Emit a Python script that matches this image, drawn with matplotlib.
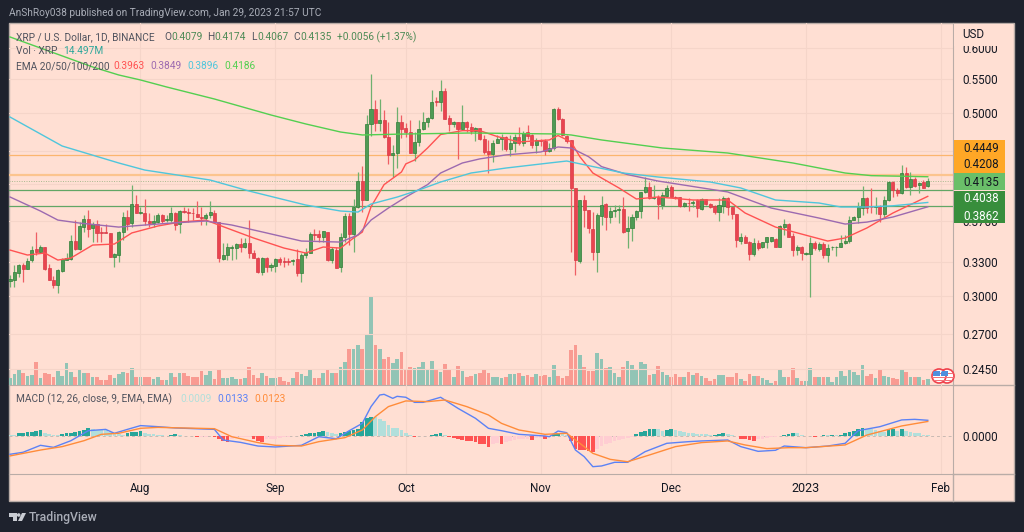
#!/usr/bin/env python3
import numpy as np
import matplotlib
matplotlib.use("Agg")
import matplotlib.pyplot as plt
from matplotlib.patches import Rectangle, Circle, Polygon
from matplotlib.ticker import NullLocator
from matplotlib.transforms import IdentityTransform

# daily candles, 2 Jul 2022 .. 29 Jan 2023
opens = [
    .3131, .3137, .3202, .3271, .3238, .3314, .3421, .3392, .3437, .3241,
    .3137, .3096, .3220, .3317, .3329, .3498, .3417, .3634, .3719, .3624,
    .3665, .3584, .3584, .3574, .3342, .3367, .3587, .3737, .3675, .3876,
    .3786, .3786, .3702, .3678, .3692, .3761, .3706, .3709, .3786, .3665,
    .3808, .3797, .3786, .3772, .3744, .3733, .3758, .3786, .3692, .3329,
    .3360, .3434, .3431, .3466, .3440, .3482, .3380, .3332, .3211, .3332,
    .3253, .3262, .3326, .3311, .3311, .3311, .3323, .3196, .3360, .3386,
    .3564, .3564, .3541, .3590, .3317, .3411, .3256, .3541, .3755, .3563,
    .3844, .4133, .3923, .4850, .5054, .4869, .4905, .4678, .4448, .4478,
    .4873, .4793, .4748, .4478, .4618, .4788, .4877, .4928, .5173, .5163,
    .5319, .4928, .4850, .4873, .4784, .4882, .4806, .4761, .4797, .4652,
    .4494, .4457, .4605, .4648, .4674, .4519, .4605, .4674, .4605, .4743,
    .4699, .4570, .4639, .4626, .4494, .4536, .5058, .4924, .4696, .4639,
    .4052, .3311, .3923, .3815, .3617, .3392, .3755, .3876, .3737, .3808,
    .3812, .3826, .3600, .3628, .3737, .3808, .4008, .4064, .3945, .3953,
    .3873, .3968, .4072, .3960, .3953, .3858, .3894, .3887, .3923, .3826,
    .3930, .3879, .3858, .3794, .3858, .3945, .3844, .3773, .3495, .3540,
    .3492, .3373, .3476, .3437, .3486, .3495, .3518, .3443, .3641, .3664,
    .3548, .3411, .3443, .3373, .3373, .3482, .3424, .3469, .3364, .3437,
    .3437, .3437, .3476, .3502, .3712, .3737, .3837, .3949, .3851, .3851,
    .3858, .3769, .3923, .4125, .4034, .3996, .4233, .4064, .4164, .4087,
    .4125, .4079,
]
closes = [
    .3149, .3208, .3274, .3238, .3311, .3411, .3392, .3437, .3238, .3137,
    .3096, .3223, .3323, .3332, .3495, .3417, .3648, .3719, .3621, .3665,
    .3574, .3574, .3574, .3348, .3373, .3587, .3737, .3668, .3876, .3786,
    .3790, .3702, .3682, .3699, .3761, .3699, .3716, .3786, .3658, .3808,
    .3790, .3786, .3779, .3744, .3733, .3761, .3790, .3692, .3332, .3360,
    .3437, .3437, .3469, .3440, .3482, .3380, .3332, .3211, .3332, .3253,
    .3268, .3323, .3301, .3298, .3301, .3317, .3202, .3360, .3386, .3564,
    .3557, .3541, .3594, .3317, .3417, .3247, .3541, .3755, .3567, .3844,
    .4133, .3923, .4850, .5054, .4869, .4905, .4678, .4448, .4478, .4873,
    .4784, .4748, .4478, .4618, .4788, .4877, .4928, .5163, .5163, .5319,
    .4924, .4850, .4873, .4784, .4882, .4815, .4761, .4797, .4652, .4486,
    .4457, .4605, .4648, .4683, .4519, .4600, .4674, .4605, .4730, .4690,
    .4570, .4635, .4626, .4494, .4536, .5058, .4919, .4704, .4630, .4052,
    .3317, .3923, .3819, .3624, .3392, .3762, .3873, .3737, .3808, .3815,
    .3826, .3590, .3628, .3737, .3808, .4008, .4064, .3949, .3953, .3881,
    .3975, .4060, .3953, .3942, .3858, .3887, .3887, .3905, .3833, .3930,
    .3879, .3844, .3790, .3865, .3945, .3844, .3773, .3508, .3540, .3482,
    .3373, .3476, .3430, .3486, .3535, .3535, .3443, .3647, .3664, .3541,
    .3411, .3437, .3386, .3386, .3476, .3427, .3469, .3364, .3433, .3443,
    .3443, .3476, .3498, .3712, .3744, .3844, .3949, .3840, .3844, .3858,
    .3769, .3923, .4121, .4034, .3996, .4225, .4064, .4164, .4080, .4117,
    .4060, .4135,
]
highs = [
    .3181, .3271, .3280, .3292, .3332, .3450, .3587, .3463, .3443, .3280,
    .3172, .3232, .3332, .3380, .3554, .3709, .3692, .3761, .3815, .3692,
    .3709, .3634, .3665, .3574, .3380, .3597, .3793, .3815, .4095, .3978,
    .3851, .3934, .3779, .3761, .3779, .3772, .3761, .3851, .3797, .3815,
    .3851, .3833, .3833, .3916, .3851, .3779, .3916, .3815, .3692, .3476,
    .3476, .3460, .3476, .3524, .3524, .3709, .3411, .3348, .3342, .3348,
    .3286, .3332, .3342, .3342, .3332, .3323, .3417, .3380, .3427, .3590,
    .3614, .3607, .3600, .3590, .3443, .3437, .3574, .3780, .3780, .3930,
    .4245, .4313, .4975, .5578, .5187, .5197, .5044, .4873, .4574, .5092,
    .4975, .4859, .4905, .4748, .4905, .5021, .4951, .5334, .5236, .5485,
    .5360, .4975, .4896, .4882, .5115, .4891, .4859, .4815, .4797, .4704,
    .4639, .4639, .4704, .4717, .4691, .4704, .4717, .4815, .4761, .4836,
    .4717, .4661, .4656, .4648, .4596, .5068, .5092, .4928, .4704, .4639,
    .4052, .3923, .3978, .3815, .3797, .3780, .3967, .3894, .3851, .3869,
    .3869, .3953, .3750, .3773, .3815, .4015, .4180, .4129, .4091, .3978,
    .4016, .4091, .4091, .3968, .3960, .3905, .3942, .3923, .3930, .3942,
    .3938, .3887, .3869, .3942, .3968, .3953, .3851, .3773, .3574, .3557,
    .3502, .3524, .3508, .3492, .3541, .3541, .3524, .3654, .3716, .3675,
    .3574, .3460, .3450, .3395, .3541, .3502, .3492, .3492, .3469, .3450,
    .3450, .3557, .3557, .3752, .3752, .3905, .4080, .3960, .4053, .3960,
    .3869, .3968, .4140, .4136, .4053, .4323, .4303, .4245, .4180, .4129,
    .4148, .4174,
]
lows = [
    .3079, .3079, .3160, .3122, .3232, .3301, .3364, .3380, .3226, .3137,
    .3065, .3023, .3211, .3317, .3317, .3411, .3411, .3590, .3541, .3492,
    .3492, .3492, .3574, .3342, .3250, .3301, .3508, .3607, .3634, .3779,
    .3772, .3658, .3634, .3634, .3682, .3675, .3692, .3692, .3607, .3580,
    .3779, .3692, .3709, .3737, .3658, .3658, .3726, .3682, .3301, .3317,
    .3317, .3317, .3323, .3395, .3427, .3332, .3332, .3202, .3181, .3211,
    .3217, .3211, .3271, .3256, .3271, .3271, .3172, .3122, .3332, .3380,
    .3508, .3492, .3492, .3311, .3286, .3241, .3211, .3492, .3459, .3395,
    .3833, .3797, .3923, .4690, .4751, .4761, .4661, .4338, .4179, .4285,
    .4661, .4674, .4470, .4378, .4562, .4770, .4815, .4914, .5105, .5030,
    .4914, .4761, .4815, .4399, .4779, .4748, .4717, .4630, .4639, .4461,
    .4226, .4358, .4596, .4511, .4503, .4436, .4490, .4575, .4562, .4648,
    .4532, .4478, .4562, .4448, .4482, .4511, .4905, .4690, .4596, .3395,
    .3181, .3293, .3641, .3581, .3317, .3211, .3658, .3607, .3682, .3744,
    .3675, .3580, .3432, .3501, .3709, .3727, .3997, .3930, .3930, .3723,
    .3826, .3953, .3953, .3930, .3844, .3844, .3808, .3844, .3737, .3815,
    .3869, .3833, .3769, .3702, .3783, .3762, .3723, .3443, .3469, .3476,
    .3317, .3354, .3411, .3427, .3427, .3485, .3437, .3437, .3558, .3535,
    .3355, .3364, .3317, .3364, .2995, .3411, .3405, .3333, .3302, .3411,
    .3355, .3437, .3469, .3476, .3709, .3675, .3762, .3783, .3783, .3773,
    .3692, .3744, .3916, .3961, .3968, .3989, .4053, .3978, .4072, .3996,
    .4053, .4067,
]
# volume in millions
volume = [
    17.6, 25.6, 38.4, 28, 22.4, 24, 56, 16, 28, 26.4,
    20, 33.6, 22.4, 52.8, 32, 20, 38.4, 28, 28, 20,
    20, 11.2, 11.2, 24, 17.6, 26.4, 32, 28, 41.6, 20,
    20, 19.2, 20, 14.4, 20, 11.2, 12.8, 28, 20, 29.6,
    29.6, 21.6, 20, 20, 33.6, 24, 33.6, 13.6, 36, 17.6,
    17.6, 20, 14.4, 14.4, 16, 42.4, 24, 17.6, 29.6, 21.6,
    17.6, 17.6, 20, 9.6, 8, 16, 30.4, 25.6, 22.4, 38.4,
    17.6, 16, 29.6, 36, 29.6, 29.6, 44, 54.4, 88, 88,
    97.6, 88, 120, 216, 97.6, 86.4, 64, 68, 52, 64,
    80, 37.6, 44, 41.6, 44, 56, 36, 57.6, 38.4, 30.4,
    49.6, 38.4, 20, 46.4, 33.6, 20, 21.6, 26.4, 28, 37.6,
    28, 20, 20,
    16, 20, 26.4, 26.4, 28, 21.6, 24, 18.4, 26.4, 21.6,
    24, 20, 48, 21.6, 16, 21.6, 84, 96, 72, 42.4,
    33.6, 34.4, 77.6, 64, 41.6, 42.4, 29.6, 20, 42.4, 58.4,
    48, 36, 56, 50.4, 24, 26.4, 45.6, 30.4, 24, 18.4,
    26.4, 18.4, 20, 30.4, 24, 29.6, 22.4, 17.6, 9.6, 13.6,
    24, 24, 20, 18.4, 29.6, 13.6, 10.4, 26.4, 21.6, 21.6,
    16, 12, 5.6, 9.6, 36, 20, 20, 40, 16, 10.4,
    10.4, 40, 20, 20, 18.4, 18.4, 8, 18.4, 34.4, 21.6,
    36, 30.4, 24, 48, 21.6, 25.6, 17.6, 36, 22.4, 20,
    16, 14.4, 38.4, 30.4, 20, 20, 20, 12, 14.5,
]
# macd histogram in units of 1e-4
hist_e4 = [
    11, 8, 23, 25, 31, 37, 42, 48, 25, 17, 8, 6, 17, 25, 28, 37, 45, 51, 65, 59,
    54, 51, 48, 37, 28, 14, 8, 23, 31, 37, 40, 28, 20, 14, 8, 6, 3, 8, 14, 6, 3,
    -3, -3, -6, -6, -6, -3,
    -11, -25, -40, -54,
    -23, -14, -8, -6, -6,
    -28, -40, -51,
    -28, -25, -23, -17, -11, -6, -3,
    3,
    6, 14, 23, 28, 37, 42,
    31, 23, 14,
    23, 31, 42, 48, 62,
    119, 155, 164, 164,
    147, 130, 93, 71, 65, 51, 23, 6,
    -8, -3, 0,
    3, 8, 17, 23, 8,
    -8, -20, -28, -34, -40, -45, -51, -65, -71, -93, -71, -62,
    -65, -51, -40, -34, -28, -28, -25, -31, -17, -14, -28, -6, 17, 28, 17, 6,
    -42, -113, -119, -121, -127, -133,
    -113, -85, -71, -56, -42, -34, -25, -17, -11,
    20, 34, 45, 56, 59, 59, 42, 51, 56,
    51, 42, 34, 28, 23, 20, 14, 14,
    8, 11, 17, 23, 14, 6, -3,
    -23, -28, -34, -45,
    -28, -23, -17, -11, -6, -3,
    6, 14, 23, 23, 8, 3, 0, -6, 3, 8, 8, 11, 6, 8,
    23, 37, 45, 56, 71, 62, 56, 51, 42, 34,
    56, 62, 40, 56, 40, 34, 25, 23, 11, 9,
]

ema20_day = [0, 4, 8, 11, 14, 19, 24, 28, 34, 39, 45, 48, 56, 63, 68, 72, 76, 79, 81, 83, 86, 90, 91, 93,
             96, 99, 104, 108, 112, 117, 124, 126, 129, 131, 134, 140, 144, 149, 157, 165, 169, 176, 188,
             192, 197, 203, 211]
ema20 = [.3411, .3364, .3383, .3317, .3336, .3459, .3469, .3578, .3648, .3688, .3709, .3658, .3528, .3430,
         .3383, .3440, .3430, .3528, .3587, .3849, .4095, .4242, .4339, .4386, .4536, .4710, .4761, .4761,
         .4684, .4613, .4639, .4697, .4613, .4428, .4230, .4057, .3934, .3956, .3923, .3923, .3783, .3637,
         .3498, .3528, .3628, .3783, .3963]
ema50_day = [0, 7, 11, 16, 25, 31, 37, 45, 51, 59, 67, 76, 80, 83, 87, 91, 96, 99, 104, 108, 114, 122, 126,
             129, 133, 136, 142, 149, 165, 175, 186, 192, 197, 203, 211]
ema50 = [.3956, .3804, .3709, .3678, .3637, .3658, .3678, .3699, .3658, .3578, .3498, .3488, .3558, .3709,
         .3836, .3955, .4095, .4230, .4350, .4400, .4449, .4486, .4549, .4536, .4428, .4306, .4211, .4136,
         .4012, .3836, .3730, .3668, .3688, .3741, .3849]
ema100_day = [0, 12, 25, 31, 46, 55, 68, 76, 80, 83, 89, 94, 99, 106, 114, 124, 128, 133, 141, 149, 161, 168,
              176, 186, 191, 197, 203, 211]
ema100 = [.4946, .4561, .4350, .4265, .4148, .4022, .3868, .3804, .3793, .3879, .3955, .4034, .4125, .4230,
          .4289, .4350, .4374, .4318, .4230, .4183, .4125, .4057, .3923, .3890, .3847, .3847, .3860, .3896]
ema200_day = [0, 19, 25, 30, 36, 47, 60, 68, 76, 81, 91, 106, 126, 129, 136, 150, 165, 180, 192, 198, 211]
ema200 = [.6185, .5688, .5562, .5485, .5379, .5201, .4974, .4851, .4743, .4704, .4717, .4730, .4717, .4704,
          .4639, .4536, .4473, .4350, .4230, .4199, .4186]

macd_day = [0, 3, 7, 10, 14, 18, 22, 24, 27, 30, 34, 38, 47, 49, 53, 57, 61, 67, 71, 75, 78, 81, 83, 85, 86,
            88, 89, 91, 93, 95, 99, 103, 107, 110, 113, 117, 123, 124, 126, 128, 130, 132, 134, 136, 139, 142,
            146, 151, 156, 159, 165, 168, 172, 176, 178, 183, 188, 192, 195, 200, 205, 208, 211]
macd = [-.0155, -.0138, -.0079, -.0096, -.0040, .0045, .0056, .0023, .0056, .0088, .0079, .0068, .0056, -.0034,
        -.0054, -.0085, -.0093, -.0079, -.0006, -.0023, .0045, .0107, .0249, .0347, .0353, .0319, .0336, .0328,
        .0285, .0285, .0328, .0234, .0150, .0065, .0045, .0014, .0000, -.0006, .0042, .0028, -.0119, -.0175,
        -.0260, -.0254, -.0223, -.0223, -.0133, -.0062, -.0048, -.0042, -.0034, -.0090, -.0130, -.0121, -.0085,
        -.0099, -.0085, -.0062, .0045, .0079, .0136, .0141, .0133]
signal_day = [0, 7, 12, 17, 21, 25, 30, 34, 47, 51, 57, 61, 67, 71, 77, 81, 84, 87, 91, 96, 100, 105, 110, 113,
              117, 123, 128, 134, 138, 142, 147, 153, 159, 165, 169, 174, 179, 183, 192, 197, 205, 211]
signal = [-.0169, -.0119, -.0090, -.0040, .0014, .0023, .0065, .0073, .0062, -.0006, -.0056, -.0079, -.0085,
          -.0048, -.0014, .0051, .0164, .0249, .0297, .0291, .0305, .0249, .0178, .0107, .0051, .0014, .0023,
          -.0147, -.0198, -.0218, -.0161, -.0090, -.0056, -.0042, -.0076, -.0107, -.0099, -.0099, -.0076, .0008,
          .0085, .0123]

month_day = [30, 61, 91, 122, 152, 183, 214]
month_labels = ["Aug", "Sep", "Oct", "Nov", "Dec", "2023", "Feb"]
price_ticks = [.60, .55, .50, .45, .41, .37, .33, .30, .27, .245]
# .45 and .41 sit fully behind the value boxes
price_labels = ["0.6000", "0.5500", "0.5000", "", "", "0.3700", "0.3300", "0.3000", "0.2700", "0.2450"]
level_orange = [.4449, .4208]
level_green = [.4038, .3862]
last_price = .4135

W, H = 1024, 532
BG = "#1e222d"
PANE = "#ffdfd3"
GRID = "#f5d5c9"
EDGE = "#b9aca7"
INK = "#131722"
FONT = ["Roboto", "DejaVu Sans"]
plt.rcParams["font.family"] = FONT
plt.rcParams["font.size"] = 7.3


def box(x0, y0, x1, y1):
    # pixel box, y from the top, to figure fractions
    return [x0 / W, 1 - y1 / H, (x1 - x0) / W, (y1 - y0) / H]


def label(x, y, s, color=INK, size=7.3, ha="left", zorder=7, **kw):
    fig.text(x / W, 1 - y / H, s, color=color, fontsize=size, ha=ha, va="center", zorder=zorder, **kw)


def rect(x0, y0, x1, y1, color, zorder):
    b = box(x0, y0, x1, y1)
    fig.add_artist(Rectangle((b[0], b[1]), b[2], b[3], transform=fig.transFigure,
                             facecolor=color, edgecolor="none", zorder=zorder))


fig = plt.figure(figsize=(W / 100, H / 100), dpi=100, facecolor=BG)

# outer pane and the price column behind everything
b = box(9, 23, 1014, 501)
fig.add_artist(Rectangle((b[0], b[1]), b[2], b[3], transform=fig.transFigure,
                         facecolor=PANE, edgecolor=EDGE, lw=1.0, zorder=-2))

days = np.arange(len(opens))
o, h, l, c = map(np.array, (opens, highs, lows, closes))
up = c >= o
xlim = (-0.23, 216.8)

# volume sits under the candles in the same pane
ax_vol = fig.add_axes(box(9, 23, 953, 385), zorder=1)
ax_vol.patch.set_visible(False)
ax_vol.bar(days, volume, width=0.85, color=np.where(up, "#92c4b5", "#f99b92"), linewidth=0)
ax_vol.set_xlim(xlim)
ax_vol.set_ylim(0, 875)
ax_vol.axis("off")

ax = fig.add_axes(box(9, 23, 953, 385), zorder=2)
ax.patch.set_visible(False)
ax.set_yscale("log")
ax.set_xlim(xlim)
ax.set_ylim(.234, .6431)
ax.set_axisbelow(True)
ax.grid(True, color=GRID, lw=0.8)
ax.set_xticks(month_day)
ax.tick_params(axis="x", length=0, labelbottom=False)
ax.yaxis.tick_right()
ax.set_yticks(price_ticks)
ax.set_yticklabels(price_labels, fontsize=8.4, color=INK)
ax.yaxis.set_minor_locator(NullLocator())
ax.tick_params(axis="y", length=0, pad=7)
for s in ax.spines.values():
    s.set_visible(False)
ax.spines["right"].set_visible(True)
ax.spines["right"].set_color(EDGE)
ax.spines["bottom"].set_visible(True)
ax.spines["bottom"].set_color(EDGE)

ax.axhline(level_orange[0], color="#fbb56e", lw=0.9, zorder=1.5)
ax.axhline(level_orange[1], color="#fcc48e", lw=1.6, zorder=1.5)
for lv in level_green:
    ax.axhline(lv, color="#62a665", lw=0.9, zorder=1.5)
ax.axhline(last_price, color="#a9b98f", lw=0.7, ls=(0, (1, 1.5)), zorder=1.5)

# candles
ax.vlines(days[up], l[up], h[up], color="#6fb06f", lw=0.9, zorder=3)
ax.vlines(days[~up], l[~up], h[~up], color="#ef5f64", lw=0.9, zorder=3)
ax.bar(days[up], (c - o)[up], bottom=o[up], width=0.7, color="#4f9b55", edgecolor="#2f7d37", lw=0.5, zorder=3.2)
ax.bar(days[~up], (o - c)[~up], bottom=c[~up], width=0.7, color="#e9444f", edgecolor="#d83a48", lw=0.5, zorder=3.2)

ax.plot(ema20_day, ema20, color="#ff5252", lw=1.0, zorder=4)
ax.plot(ema50_day, ema50, color="#9c6ab0", lw=1.0, zorder=4)
ax.plot(ema100_day, ema100, color="#4fc6dc", lw=1.0, zorder=4)
ax.plot(ema200_day, ema200, color="#53cf50", lw=1.0, zorder=4)

# macd pane
ax_m = fig.add_axes(box(9, 385, 953, 474), zorder=2)
ax_m.patch.set_visible(False)
hist = np.array(hist_e4) * 1e-4
prev = np.r_[hist[0], hist[:-1]]
hist_col = np.where(hist >= 0,
                    np.where(hist > prev, "#26a69a", "#b2dfdb"),
                    np.where(hist < prev, "#ff5252", "#ffcdd2"))
ax_m.axhline(0, color="#c9b9b2", lw=0.7, ls=(0, (3, 3)), zorder=1)
ax_m.bar(days, hist, width=0.86, color=hist_col, linewidth=0, zorder=2)
ax_m.plot(macd_day, macd, color="#5c82f5", lw=1.0, zorder=3)
ax_m.plot(signal_day, signal, color="#ff8c3a", lw=1.0, zorder=3)
ax_m.set_xlim(xlim)
ax_m.set_ylim(-.0322, .0432)
ax_m.set_axisbelow(True)
ax_m.grid(True, axis="x", color=GRID, lw=0.8)
ax_m.set_xticks(month_day)
ax_m.set_xticklabels(month_labels, fontsize=8.4, color=INK)
ax_m.get_xticklabels()[5].set_fontsize(9)
ax_m.tick_params(axis="x", length=0, pad=6)
ax_m.yaxis.tick_right()
ax_m.set_yticks([0])
ax_m.set_yticklabels(["0.0000"], fontsize=8.4, color=INK)
ax_m.tick_params(axis="y", length=0, pad=7)
for s in ax_m.spines.values():
    s.set_visible(False)
ax_m.spines["right"].set_visible(True)
ax_m.spines["right"].set_color(EDGE)
ax_m.spines["bottom"].set_visible(True)
ax_m.spines["bottom"].set_color(EDGE)
fig.add_artist(plt.Line2D([953 / W, 953 / W], [1 - 474 / H, 1 - 501 / H], color=EDGE, lw=1.0, zorder=1))
fig.add_artist(plt.Line2D([953 / W, 1014 / W], [1 - 385 / H, 1 - 385 / H], color=EDGE, lw=1.0, zorder=1))
fig.add_artist(plt.Line2D([953 / W, 1014 / W], [1 - 474 / H, 1 - 474 / H], color=EDGE, lw=1.0, zorder=1))

# header and legends
label(9, 13, "AnShRoy038 published on TradingView.com, Jan 29, 2023 21:57 UTC", color="#a9adb7")
LEG = "#50535e"
OHLC = "#4c8a55"
label(16, 37, "XRP / U.S. Dollar, 1D, BINANCE", LEG)
label(164, 37, "O", LEG)
label(171, 37, "0.4079", OHLC)
label(207, 37, "H", LEG)
label(214, 37, "0.4174", OHLC)
label(251, 37, "L", LEG)
label(257, 37, "0.4067", OHLC)
label(293, 37, "C", LEG)
label(300, 37, "0.4135", OHLC)
label(337, 37, "+0.0056 (+1.37%)", OHLC)
label(16, 51, "Vol · XRP", LEG)
label(63, 51, "14.497M", "#2fa79b")
label(16, 66, "EMA 20/50/100/200", LEG)
label(113, 66, "0.3963", "#ff5252")
label(150, 66, "0.3849", "#9c6ab0")
label(187, 66, "0.3896", "#4fc6dc")
label(224, 66, "0.4186", "#53cf50")
label(16, 399, "MACD (12, 26, close, 9, EMA, EMA)", LEG)
label(180, 399, "0.0009", "#b2dfdb")
label(217, 399, "0.0133", "#5c82f5")
label(254, 399, "0.0123", "#ff8c3a")

# price column: USD header clips the top tick, last-value boxes cover the rest
rect(954, 24, 1013, 45.5, PANE, 4)
label(962, 35, "USD", INK, size=8.4)
rect(954, 140, 1005, 173, "#ffa726", 5)
rect(954, 173, 1005, 190.5, "#6abf69", 5)
rect(954, 190.5, 1005, 223, "#388e3c", 5)
label(999, 148, "0.4449", INK, size=8.4, ha="right")
label(999, 165, "0.4208", INK, size=8.4, ha="right")
label(999, 182, "0.4135", INK, size=8.4, ha="right")
label(999, 199, "0.4038", "white", size=8.4, ha="right")
label(999, 216, "0.3862", "white", size=8.4, ha="right")

# earnings-style flag badges
px = IdentityTransform()
for cx in (947, 939):
    disc = Circle((cx, H - 376), 7, transform=px, facecolor="white", edgecolor="#f0404a", lw=1.2, zorder=6)
    fig.add_artist(disc)
    for yy in (373.5, 377, 380.5):
        st = Rectangle((cx - 7, H - yy - 0.7), 14, 1.2, transform=px, facecolor="#f2737a", edgecolor="none", zorder=6.1)
        fig.add_artist(st)
        st.set_clip_path(disc)
    canton = Rectangle((cx - 6, H - 376), 6.5, 5.5, transform=px, facecolor="#4f8fdc", edgecolor="none", zorder=6.2)
    fig.add_artist(canton)
    canton.set_clip_path(disc)

# TradingView mark
logo = "#c9ccd3"
fig.add_artist(Polygon([(9, H - 513), (16.5, H - 513), (16.5, H - 521), (12.7, H - 521), (12.7, H - 516.5), (9, H - 516.5)],
                       transform=px, facecolor=logo, edgecolor="none", zorder=6))
fig.add_artist(Circle((18.7, H - 515), 1.8, transform=px, facecolor=logo, edgecolor="none", zorder=6))
fig.add_artist(Polygon([(26, H - 513), (22, H - 513), (18, H - 521), (22, H - 521)],
                       transform=px, facecolor=logo, edgecolor="none", zorder=6))
label(29, 517, "TradingView", "#a9adb7", size=8.8, fontweight="medium")

fig.savefig("out.png", dpi=100, facecolor=BG)
